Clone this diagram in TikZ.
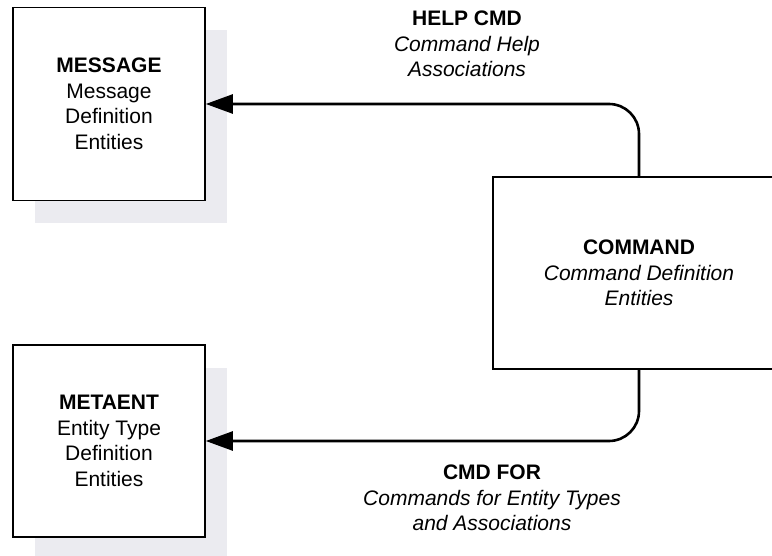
\documentclass[tikz,border=0pt]{standalone}
\usepackage{fontspec}
\setmainfont{Liberation Sans}
\usetikzlibrary{arrows.meta,shadows}
\definecolor{shadowgray}{RGB}{235,235,240}
\begin{document}
\begin{tikzpicture}[x=1pt,y=-1pt,
  entity/.style={draw=black, line width=1.6pt, fill=white, inner sep=0pt,
    align=center, font=\fontsize{21}{25.5}\selectfont},
  shadowed/.style={general shadow={fill=shadowgray, shadow xshift=22pt, shadow yshift=-23pt}},
  conn/.style={line width=2.6pt, rounded corners=30pt,
    -{Triangle[length=27pt,width=19pt]}},
  lbl/.style={inner sep=0pt, align=center, font=\fontsize{21}{25.5}\selectfont}]
  \useasboundingbox (0,0) rectangle (772,556);

  % entity boxes
  \node[entity, shadowed, minimum width=192pt, minimum height=193pt] (message) at (109,104)
    {\textbf{MESSAGE}\\Message\\Definition\\Entities};
  \node[entity, shadowed, minimum width=192pt, minimum height=192pt] (metaent) at (109,441)
    {\textbf{METAENT}\\Entity Type\\Definition\\Entities};
  \node[entity, minimum width=292pt, minimum height=192pt] (command) at (639,273)
    {\textbf{COMMAND}\\\textit{Command Definition}\\\textit{Entities}};

  % relationships
  \draw[conn] (command.north) |- (message.east);
  \draw[conn] (command.south) |- (metaent.east);

  % relationship labels
  \node[lbl] (helpcmd) at (467,44)
    {\textbf{HELP CMD}\\\textit{Command Help}\\\textit{Associations}};
  \node[lbl] (cmdfor) at (492,498)
    {\textbf{CMD FOR}\\\textit{Commands for Entity Types}\\\textit{and Associations}};
\end{tikzpicture}
\end{document}
